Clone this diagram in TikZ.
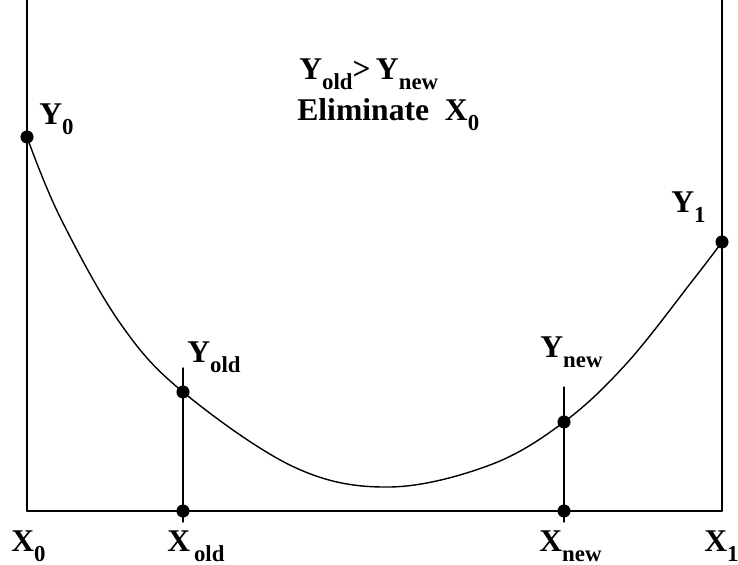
\documentclass[tikz,border=0pt]{standalone}
\usepackage{fontspec}
\setmainfont{Liberation Serif}
\usetikzlibrary{calc}
\usepackage{tkz-euclide}

\newcommand{\sublbl}[2]{#1\raisebox{-5.5pt}{\fontsize{13}{14}\selectfont #2}}
\tikzset{lbl/.style={anchor=base west,inner sep=0pt,font=\fontsize{18}{20}\selectfont\bfseries}}

\begin{document}
\begin{tikzpicture}
\useasboundingbox (0,0) rectangle (14.76,11.3);
\tkzDefPoints{0.54/1.08/X0,14.44/1.08/X1,0.54/11.3/T0,14.44/11.3/T1} % The frame.
\tkzDefPoints{3.66/1.08/Xold,11.28/1.08/Xnew,3.66/0.86/Bold,11.28/0.86/Bnew}
\tkzDefPoints{0.54/8.56/Y0,14.44/6.46/Y1,3.66/3.46/Yold,11.28/2.86/Ynew}
\tkzDefPoints{3.66/3.94/Told,11.28/3.56/Tnew}

\tkzDrawSegments[line width=0.8pt,color=black](T0,X0 X0,X1 X1,T1 Told,Bold Tnew,Bnew)

% the curve through Y0, Yold, Ynew and Y1
\draw[line width=0.8pt] plot[smooth,tension=0.6] coordinates {(Y0) (1.20,6.96) (2.40,4.84) (Yold) (5.90,1.95) (7.80,1.56) (9.80,2.00) (Ynew) (12.54,4.04) (13.86,5.70) (Y1)};

\tkzDrawPoints[size=7,color=black,fill=black](Y0,Y1,Yold,Ynew,Xold,Xnew)

\node[lbl] (lX0) at (0.22,0.26) {\sublbl{X}{0}};
\node[lbl] (lXold) at (3.34,0.26) {\sublbl{X}{\,old}};
\node[lbl] (lXnew) at (10.78,0.26) {\sublbl{X}{new}};
\node[lbl] (lX1) at (14.08,0.26) {\sublbl{X}{1}};
\node[lbl] (lY0) at (0.78,8.80) {\sublbl{Y}{0}};
\node[lbl] (lY1) at (13.42,7.04) {\sublbl{Y}{1}};
\node[lbl] (lYold) at (3.74,4.04) {\sublbl{Y}{old}};
\node[lbl] (lYnew) at (10.80,4.14) {\sublbl{Y}{new}};

\node[lbl] (cond) at (5.98,9.70) {\sublbl{Y}{old}>\,\sublbl{Y}{new}};
\node[lbl] (elim) at (5.94,8.88) {Eliminate\ \ \sublbl{X}{0}};
\end{tikzpicture}
\end{document}
